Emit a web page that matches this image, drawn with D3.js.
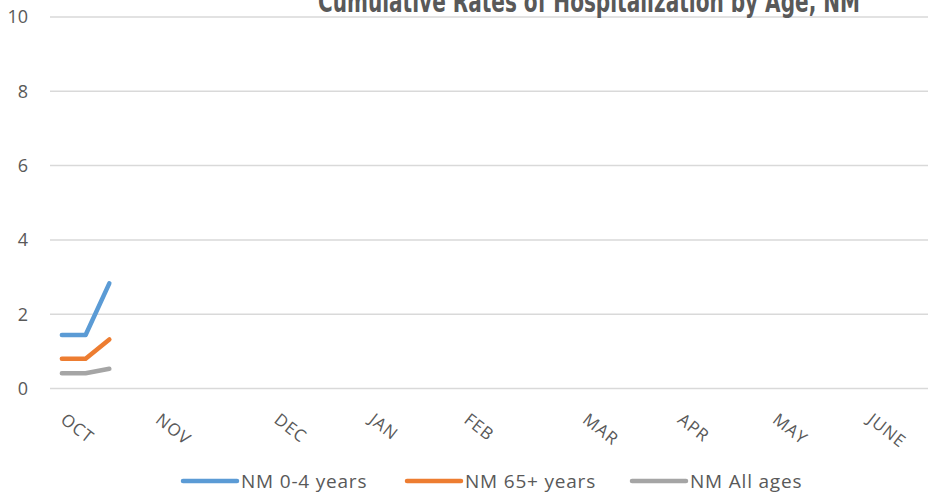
<!DOCTYPE html>
<html>
<head>
<meta charset="utf-8">
<script src="https://cdn.jsdelivr.net/npm/d3@7"></script>
<style>
  body { margin: 0; background: #fff; }
  svg { display: block; }
</style>
</head>
<body>
<div id="chart"></div>
<script>
const WIDTH = 928;
const HEIGHT = 492;

// 37 weekly categories, month label on the first week of each month
const weeks = ["OCT","","","","NOV","","","","","DEC","","","","JAN","","","","FEB","","","","",
    "MAR","","","","APR","","","","MAY","","","","JUNE","",""];
const age0to4 = [1.44, 1.44, 2.83];
const age65plus = [0.8, 0.8, 1.32];
const allAges = [0.41, 0.41, 0.53];
const yTicks = [0, 2, 4, 6, 8, 10];

const seriesNames = ["NM 0-4 years", "NM 65+ years", "NM All ages"];
const seriesColors = ["#5b9bd5", "#ed7d31", "#a5a5a5"];

function setup(){
    let svg = d3.select("#chart")
        .append("svg")
        .attr("width",WIDTH)
        .attr("height",HEIGHT);

    let x = d3.scaleBand()
        .domain(d3.range(weeks.length))
        .range([50,928]);

    let y = d3.scaleLinear()
        .domain([0,10])
        .range([388.5,17]);

    // gridlines
    svg.append("g")
        .selectAll("line")
        .data(yTicks)
        .enter()
        .append("line")
        .attr("x1",50)
        .attr("x2",928)
        .attr("y1",d => y(d))
        .attr("y2",d => y(d))
        .style("stroke","#d9d9d9")
        .style("stroke-width",1.5);

    // y tick labels
    svg.append("g")
        .selectAll("text")
        .data(yTicks)
        .enter()
        .append("text")
        .attr("x",28)
        .attr("y",d => y(d))
        .attr("dy","0.35em")
        .attr("text-anchor","end")
        .style("font-family","'Open Sans', sans-serif")
        .style("font-size","18px")
        .style("fill","#595959")
        .text(d => d);

    // month labels, rotated
    svg.append("g")
        .selectAll("text")
        .data(weeks.map((w,i) => ({w,i})).filter(d => d.w !== ""))
        .enter()
        .append("text")
        .attr("transform",d => `translate(${x(d.i)+x.bandwidth()/2+6},${411}) rotate(38)`)
        .attr("dy","0.8em")
        .attr("text-anchor","start")
        .style("font-family","'Open Sans', sans-serif")
        .style("font-size","17px")
        .style("letter-spacing","1px")
        .style("fill","#595959")
        .text(d => d.w);

    // series
    let line = d3.line()
        .defined(d => d != null)
        .x((d,i) => x(i)+x.bandwidth()/2)
        .y(d => y(d));

    [age0to4, age65plus, allAges].forEach((values,k) => {
        svg.append("path")
            .datum(values)
            .attr("d",line)
            .style("fill","none")
            .style("stroke",seriesColors[k])
            .style("stroke-width",4.5)
            .style("stroke-linecap","round")
            .style("stroke-linejoin","round");
    });

    // title (cut off at top)
    svg.append("text")
        .attr("x",318)
        .attr("y",12)
        .attr("textLength",542)
        .attr("lengthAdjust","spacingAndGlyphs")
        .style("font-family","'Liberation Sans Narrow', 'DejaVu Sans Condensed', sans-serif")
        .style("font-weight","bold")
        .style("font-size","30px")
        .style("fill","#595959")
        .text("Cumulative Rates of Hospitalization by Age, NM");

    // legend
    let legendX = [183, 407, 632];
    let legend = svg.append("g")
        .selectAll("g")
        .data(seriesNames)
        .enter()
        .append("g")
        .attr("transform",(d,i) => `translate(${legendX[i]},481)`);

    legend.append("line")
        .attr("x1",0)
        .attr("x2",54)
        .style("stroke",(d,i) => seriesColors[i])
        .style("stroke-width",4.5)
        .style("stroke-linecap","round");

    legend.append("text")
        .attr("x",58)
        .attr("dy","0.35em")
        .style("font-family","'Open Sans', sans-serif")
        .style("font-size","19px")
        .style("letter-spacing","0.8px")
        .style("fill","#595959")
        .text(d => d);
}

window.addEventListener("load",setup);
</script>
</body>
</html>
